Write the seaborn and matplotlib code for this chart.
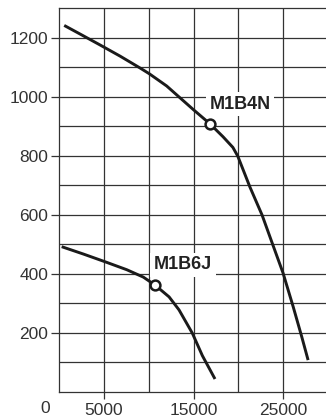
import matplotlib
matplotlib.use("Agg")
import matplotlib.pyplot as plt
import seaborn as sns
import pandas as pd

# Data
m1b4n_x = [555, 2500, 4550, 6800, 9020, 10080, 12000, 13490, 14980, 16830,
           18300, 19400, 19950, 21300, 22660, 23780, 25000, 26140, 27100, 27800]
m1b4n_y = [1241, 1209, 1175, 1137, 1097, 1077, 1036, 996, 956, 908,
           864, 828, 798, 694, 599, 505, 403, 288, 186, 108]
m1b6j_x = [270, 2700, 5110, 7540, 9390, 10700, 12270, 13380, 14870, 15990, 17400]
m1b6j_y = [492, 467, 441, 414, 389, 362, 322, 278, 199, 123, 44]
op_names = ["M1B4N", "M1B6J"]
op_x = [16830, 10700]
op_y = [908, 362]
x_ticks = [5000, 15000, 25000]
x_ticklabels = ["5000", "15000", "25000"]
y_ticks = [200, 400, 600, 800, 1000, 1200]

sns.set_theme(style="white")
plt.rcParams['font.family'] = ['Liberation Sans', 'DejaVu Sans']

fig = plt.figure(figsize=(3.26, 4.19), dpi=100)
ax = fig.add_axes([59.25 / 326, (419 - 392) / 419, 1 - 59.25 / 326, (392 - 8) / 419])

df1 = pd.DataFrame({"x": m1b4n_x, "y": m1b4n_y})
df2 = pd.DataFrame({"x": m1b6j_x, "y": m1b6j_y})
for d in (df1, df2):
    sns.lineplot(data=d, x="x", y="y", ax=ax, color="#1a1a1a", lw=2.1, sort=False,
                 zorder=3, solid_joinstyle="round", solid_capstyle="butt")
dfp = pd.DataFrame({"x": op_x, "y": op_y})
sns.scatterplot(data=dfp, x="x", y="y", ax=ax, s=50, facecolor="white",
                edgecolor="#1a1a1a", linewidth=1.8, zorder=4)

ax.set_xlim(0, 29800)
ax.set_ylim(0, 1300)
ax.set_xticks(x_ticks)
ax.set_xticklabels(x_ticklabels)
ax.set_yticks(y_ticks)
ax.grid(False)
for xv in range(5000, 30000, 5000):
    ax.axvline(xv, color="#333333", lw=0.9, zorder=1)
for yv in range(100, 1300, 100):
    ax.axhline(yv, color="#333333", lw=0.9, zorder=1)

ax.tick_params(axis="y", which="major", length=6, width=0.9, color="#333333",
               labelsize=12.5, labelcolor="#333333", pad=2, left=True)
ax.tick_params(axis="x", which="major", length=5, width=0.9, color="#333333",
               labelsize=12.5, labelcolor="#333333", pad=3, bottom=True)
ax.set_xlabel("")
ax.set_ylabel("")
ax.spines["right"].set_visible(False)
for s in ["top", "bottom", "left"]:
    ax.spines[s].set_color("#333333")
    ax.spines[s].set_linewidth(0.9)

ax.text(-1550, -57, "0", ha="center", va="center", fontsize=12.5, color="#333333",
        clip_on=False)

label_pos = [(20200, 975), (13800, 430)]
for name, (lx, ly) in zip(op_names, label_pos):
    ax.text(lx, ly, name, ha="center", va="center", fontsize=13, fontweight="bold",
            color="#222222", zorder=5,
            bbox=dict(boxstyle="square,pad=0.2", fc="white", ec="none"))

fig.savefig("out.png", dpi=100)
